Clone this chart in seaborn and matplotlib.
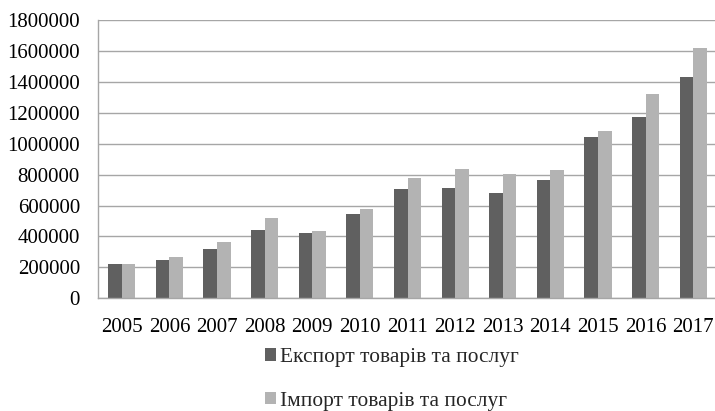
import matplotlib
matplotlib.use("Agg")
import matplotlib.pyplot as plt
import seaborn as sns
import pandas as pd
from matplotlib.patches import Patch

years = ["2005", "2006", "2007", "2008", "2009", "2010", "2011",
         "2012", "2013", "2014", "2015", "2016", "2017"]
export_vals = [222000, 250000, 321000, 444000, 420000, 547000, 707000,
               715000, 679000, 767000, 1043000, 1173000, 1429000]
import_vals = [220000, 267000, 362000, 517000, 437000, 578000, 776000,
               834000, 804000, 830000, 1082000, 1321000, 1617000]
series_names = ["Експорт товарів та послуг", "Імпорт товарів та послуг"]
series_colors = ["#606060", "#b3b3b3"]
y_ticks = [0, 200000, 400000, 600000, 800000, 1000000,
           1200000, 1400000, 1600000, 1800000]

df = pd.DataFrame({
    "year": years * 2,
    "value": export_vals + import_vals,
    "series": [series_names[0]] * len(years) + [series_names[1]] * len(years),
})

sns.set_theme(style="white")
plt.rcParams["font.family"] = ["Liberation Serif", "DejaVu Serif"]

fig = plt.figure(figsize=(7.15, 4.11), dpi=100)
ax = fig.add_axes([98 / 715, 1 - 298.3 / 411, 619 / 715, 278.3 / 411])

sns.barplot(data=df, x="year", y="value", hue="series", order=years,
            hue_order=series_names, palette=series_colors,
            width=0.57, gap=0, saturation=1, linewidth=0, ax=ax,
            legend=False)

ax.set_ylim(0, 1800000)
ax.set_xlim(-0.5, len(years) - 0.5)
ax.set_yticks(y_ticks)
ax.set_yticklabels([str(v) for v in y_ticks])
ax.set_xlabel("")
ax.set_ylabel("")
ax.yaxis.grid(True, color="#a6a6a6", linewidth=1.0)
ax.set_axisbelow(True)
ax.tick_params(axis="both", length=0, labelsize=15, colors="black")
ax.tick_params(axis="y", pad=13)
ax.tick_params(axis="x", pad=14.5)
for side in ["top", "right"]:
    ax.spines[side].set_visible(False)
for side in ["left", "bottom"]:
    ax.spines[side].set_color("#a6a6a6")
    ax.spines[side].set_linewidth(1.0)

handles = [Patch(facecolor=c, edgecolor="none") for c in series_colors]
fig.legend(handles, series_names, loc="upper left",
           bbox_to_anchor=(265 / 715, 1 - 348 / 411), frameon=False,
           fontsize=15.4, handlelength=0.5, handleheight=0.5,
           handletextpad=0.2, labelspacing=1.15, borderaxespad=0,
           borderpad=0)

fig.savefig("out.png", dpi=100)
